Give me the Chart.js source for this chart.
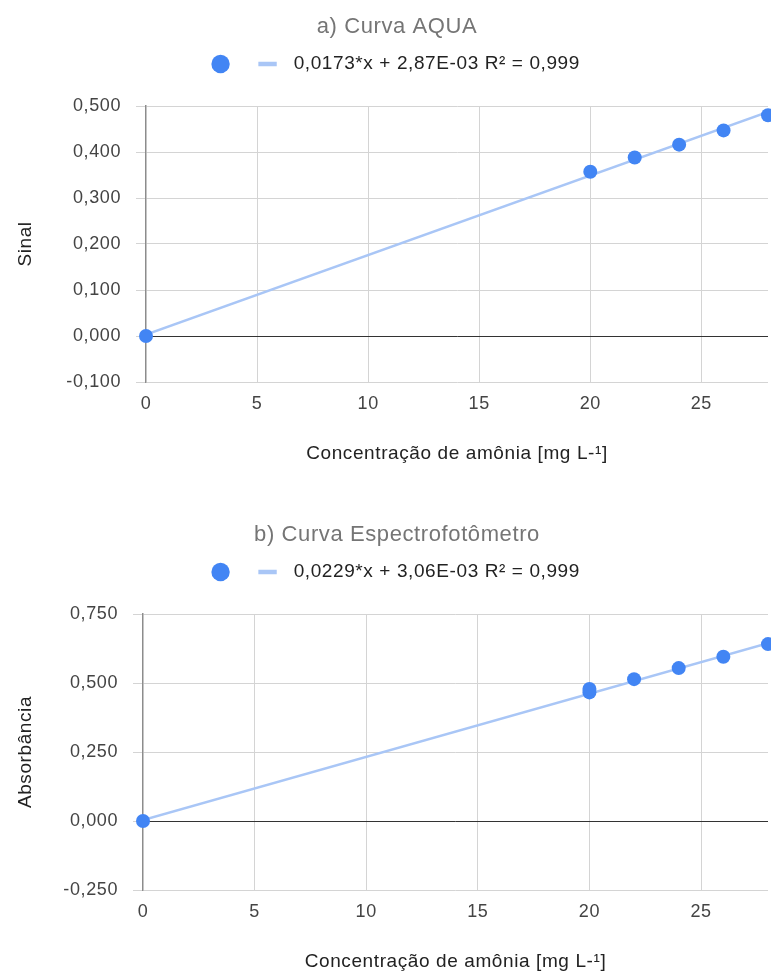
<!DOCTYPE html>
<html>
<head>
<meta charset="utf-8">
<script src="https://cdn.jsdelivr.net/npm/chart.js@4.4.1/dist/chart.umd.min.js"></script>
<style>
  html, body { margin: 0; padding: 0; background: #fff; overflow: hidden; }
  #wrap { position: relative; width: 771px; height: 973px; overflow: hidden; }
  canvas { position: absolute; left: 0; }
  #chartA { top: 0; }
  #chartB { top: 508px; }
</style>
</head>
<body>
<div id="wrap">
  <canvas id="chartA" width="794" height="508"></canvas>
  <canvas id="chartB" width="794" height="508"></canvas>
</div>
<script>
// a) Curva AQUA
const aquaX = [0, 20, 22, 24, 26, 28];
const aquaY = [0.000, 0.357, 0.388, 0.416, 0.447, 0.480];
const aquaTrendX = [0, 28];
const aquaTrendY = [0.003, 0.487];
const aquaYTicks = [-0.1, 0, 0.1, 0.2, 0.3, 0.4, 0.5];
const aquaEq = "0,0173*x + 2,87E-03 R\u00b2 = 0,999";

// b) Curva Espectrofotômetro
const espX = [0, 20, 20, 22, 24, 26, 28];
const espY = [0.000, 0.466, 0.478, 0.514, 0.554, 0.595, 0.641];
const espTrendX = [0, 28];
const espTrendY = [0.003, 0.644];
const espYTicks = [-0.25, 0, 0.25, 0.5, 0.75];
const espEq = "0,0229*x + 3,06E-03 R\u00b2 = 0,999";

const xTicks = [0, 5, 10, 15, 20, 25];
const xTitle = "Concentra\u00e7\u00e3o de am\u00f4nia [mg L-\u00b9]";

const pointColor = "#4285f4";
const trendColor = "#a9c6f6";
const FONT = "'Liberation Sans', Arial, sans-serif";

// espaçamento de letras (texto do original é mais espaçado)
const spacingPlugin = {
  id: "spacing",
  beforeUpdate: (chart) => { chart.ctx.letterSpacing = "0.6px"; },
  beforeDraw: (chart) => { chart.ctx.letterSpacing = "0.6px"; },
  // título e legenda ficam centrados no gráfico original (mais largo)
  afterLayout: (chart) => {
    [chart.titleBlock, chart.legend].forEach((b) => {
      if (b) { b.left += 13; b.right += 13; }
    });
  },
};

function curva(id, o) {
  return new Chart(document.getElementById(id), {
    type: "scatter",
    plugins: [spacingPlugin],
    data: {
      datasets: [
        {
          label: "\u2002\u2009",
          data: o.x.map((x, i) => ({ x: x, y: o.y[i] })),
          backgroundColor: pointColor,
          borderColor: pointColor,
          pointRadius: 7,
          pointHoverRadius: 7,
          pointBorderWidth: 0,
          clip: false,
        },
        {
          label: "\u2002" + o.eq,
          data: o.tx.map((x, i) => ({ x: x, y: o.ty[i] })),
          showLine: true,
          borderColor: trendColor,
          backgroundColor: trendColor,
          borderWidth: 2.5,
          pointRadius: 0,
          pointHoverRadius: 0,
        },
      ],
    },
    options: {
      responsive: false,
      animation: false,
      devicePixelRatio: 1,
      layout: { padding: { left: 0, right: 26, top: 0, bottom: 0 } },
      plugins: {
        title: {
          display: true,
          text: o.title,
          color: "#757575",
          font: { family: FONT, size: 22, weight: "normal" },
          padding: { top: 13.8, bottom: 4.3 },
        },
        subtitle: {
          // espaço entre legenda e área do gráfico
          display: true,
          text: "",
          weight: 500,
          font: { size: 1 },
          padding: { top: 0, bottom: 21.3 },
        },
        legend: {
          display: true,
          position: "top",
          labels: {
            usePointStyle: true,
            boxWidth: 13,
            boxHeight: 13,
            padding: 10,
            color: "#222",
            font: { family: FONT, size: 19 },
            generateLabels: function (chart) {
              const items = Chart.defaults.plugins.legend.labels.generateLabels(chart);
              items[0].pointStyle = "circle";
              items[0].fillStyle = pointColor;
              items[0].strokeStyle = pointColor;
              items[0].lineWidth = 0;
              items[1].pointStyle = "line";
              items[1].strokeStyle = trendColor;
              items[1].lineWidth = 4.5;
              return items;
            },
          },
        },
        tooltip: { enabled: false },
      },
      scales: {
        x: {
          type: "linear",
          min: 0,
          max: 28,
          afterBuildTicks: (s) => { s.ticks = xTicks.map((v) => ({ value: v })); },
          afterFit: (s) => { s.height = 126; },
          border: { display: false },
          grid: {
            drawTicks: false,
            color: (c) => (c.tick && c.tick.value === 0 ? "rgba(0,0,0,0)" : "#d4d4d4"),
          },
          ticks: {
            padding: 11,
            color: "#444",
            font: { family: FONT, size: 18 },
            maxRotation: 0,
          },
          title: {
            display: true,
            text: xTitle,
            color: "#222",
            font: { family: FONT, size: 19 },
            padding: { top: 0, bottom: 42.6 },
          },
        },
        y: {
          type: "linear",
          min: o.yt[0],
          max: o.yt[o.yt.length - 1],
          afterBuildTicks: (s) => { s.ticks = o.yt.map((v) => ({ value: v })); },
          afterFit: (s) => { s.width = o.left; },
          border: { display: true, color: "#8c8c8c", width: 1.5 },
          grid: {
            drawTicks: true,
            tickLength: 10,
            tickColor: "#d4d4d4",
            color: (c) => (c.tick && c.tick.value === 0 ? "#333" : "#d4d4d4"),
          },
          ticks: {
            padding: 15,
            color: "#444",
            font: { family: FONT, size: 18 },
            callback: (v) => v.toFixed(3).replace(".", ","),
          },
          title: {
            display: true,
            text: o.yTitle,
            color: "#222",
            font: { family: FONT, size: 19 },
            padding: { top: 14, bottom: 0 },
          },
        },
      },
    },
  });
}

curva("chartA", {
  title: "a) Curva AQUA",
  yTitle: "Sinal",
  x: aquaX, y: aquaY, tx: aquaTrendX, ty: aquaTrendY,
  yt: aquaYTicks, eq: aquaEq, left: 146,
});

curva("chartB", {
  title: "b) Curva Espectrofot\u00f4metro",
  yTitle: "Absorb\u00e2ncia",
  x: espX, y: espY, tx: espTrendX, ty: espTrendY,
  yt: espYTicks, eq: espEq, left: 143,
});
</script>
</body>
</html>
